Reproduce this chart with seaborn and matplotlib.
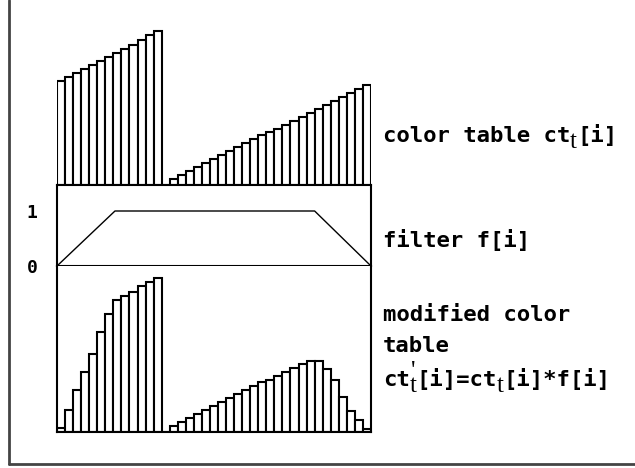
import seaborn as sns
import matplotlib.pyplot as plt
import pandas as pd
from matplotlib.lines import Line2D

# colour table ct_t[i], 39 slots
ct_values = [104, 108, 112, 116, 120, 124, 128, 132, 136, 140, 145, 150, 154,
             0,
             6, 10, 14, 18, 22, 26, 30, 34, 38, 42, 46, 50, 53, 56, 60, 64,
             68, 72, 76, 80, 84, 88, 92, 96, 100]

# modified colour table ct_t'[i] = ct_t[i] * f[i]
mod_values = [4, 22, 42, 60, 78, 100, 118, 132, 136, 140, 146, 150, 154,
              0,
              6, 10, 14, 18, 22, 26, 30, 34, 38, 42, 46, 50, 52, 56, 60, 64,
              68, 71, 71, 63, 52, 35, 21, 12, 3]

slots = list(range(len(ct_values)))

# filter f[i] (trapezoid corners, in slot units)
filter_x = [-0.5, 6.7, 31.5, 38.5]
filter_y = [0, 1, 1, 0]

# right-hand labels: (text, style) runs; "sub" = subscript t
label_top = [("color table ct", "main"), ("t", "sub"), ("[i]", "main")]
label_filter = [("filter f[i]", "main")]
label_mod1 = [("modified color", "main")]
label_mod2 = [("table", "main")]
label_mod3 = [("ct", "main"), ("'\nt", "sub"), ("[i]=ct", "main"),
              ("t", "sub"), ("[i]*f[i]", "main")]

sns.set_style("white")
plt.rcParams['font.family'] = ['DejaVu Sans Mono']
plt.rcParams['font.weight'] = 'bold'
plt.rcParams['text.color'] = 'black'
plt.rcParams['ytick.color'] = 'black'

W, H = 635, 468
fig = plt.figure(figsize=(W / 100, H / 100), dpi=100)


def px_axes(x0, y0, x1, y1):
    return fig.add_axes([x0 / W, 1 - y1 / H, (x1 - x0) / W, (y1 - y0) / H])


df = pd.DataFrame({"slot": slots, "ct": ct_values, "mod": mod_values})

# top panel: colour table
ax_top = px_axes(57, 19, 371, 185)
sns.barplot(data=df, x="slot", y="ct", color="white", edgecolor="black",
            linewidth=1.5, width=1, ax=ax_top)
ax_top.set_xlim(-0.5, 38.5)
ax_top.set_ylim(0, 166)
ax_top.axis("off")

# middle panel: filter
ax_f = px_axes(57, 185, 371, 266)
sns.lineplot(x=filter_x, y=filter_y, color="black", linewidth=1, ax=ax_f)
ax_f.set_xlim(-0.5, 38.5)
ax_f.set_ylim(0, 81 / 55)
ax_f.set_xticks([])
ax_f.set_yticks([0, 1])
ax_f.set_yticklabels(["0", "1"], fontsize=13, fontweight="bold", color="black")
ax_f.tick_params(axis="y", length=0, pad=14)
for s in ax_f.spines.values():
    s.set_linewidth(1.5)
    s.set_color("black")

# bottom panel: modified colour table
ax_b = px_axes(57, 266, 371, 432)
sns.barplot(data=df, x="slot", y="mod", color="white", edgecolor="black",
            linewidth=1.5, width=1, ax=ax_b)
ax_b.set_xlim(-0.5, 38.5)
ax_b.set_ylim(0, 166)
ax_b.set_xticks([])
ax_b.set_yticks([])
ax_b.set_xlabel("")
ax_b.set_ylabel("")
ax_b.spines["top"].set_visible(False)
for k in ["left", "right", "bottom"]:
    ax_b.spines[k].set_linewidth(1.5)
    ax_b.spines[k].set_color("black")

# labels on the right, written run by run
renderer = fig.canvas.get_renderer()
fs = 16


def write_runs(x, y, runs):
    for txt, kind in runs:
        if kind == "main":
            t = fig.text(x / W, 1 - y / H, txt, fontsize=fs, va="baseline",
                         ha="left", color="black")
        else:
            t = fig.text(x / W, 1 - (y + 6) / H, txt, fontsize=fs + 2,
                         family="Liberation Serif", fontweight="normal",
                         va="baseline", ha="left", multialignment="center",
                         linespacing=0.55, color="black")
        x += t.get_window_extent(renderer).width


write_runs(383, 142, label_top)
write_runs(383, 247, label_filter)
write_runs(383, 321, label_mod1)
write_runs(383, 352, label_mod2)
write_runs(383, 386, label_mod3)

# outer frame (left and bottom edges visible)
fig.add_artist(Line2D([8.5 / W, 8.5 / W], [1 - 464 / H, 1.0],
                      transform=fig.transFigure, color="#444444", linewidth=2))
fig.add_artist(Line2D([8.5 / W, 1.0], [1 - 464 / H, 1 - 464 / H],
                      transform=fig.transFigure, color="#444444", linewidth=2))

fig.savefig("out.png", dpi=100)
